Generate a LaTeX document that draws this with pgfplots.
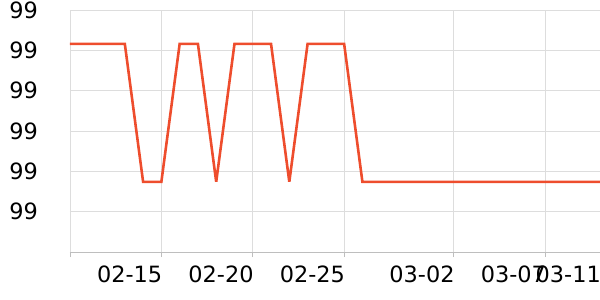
\documentclass[border=0pt]{standalone}
\usepackage{fontspec}
\setmainfont{DejaVu Sans}
\usepackage{pgfplots}
\pgfplotsset{compat=1.18}
\definecolor{linec}{RGB}{238,77,45}
\definecolor{gridc}{RGB}{221,221,221}
\definecolor{axisc}{RGB}{190,190,190}
\begin{document}
\begin{tikzpicture}
\useasboundingbox (-70bp,-48bp) rectangle (530bp,252bp);
\begin{axis}[
  at={(0,0)}, anchor=south west,
  scale only axis, width=530bp, height=242bp,
  xmin=0, xmax=29, ymin=0, ymax=6,
  axis x line*=bottom, axis y line*=left,
  x axis line style={draw=axisc, line width=0.8pt},
  y axis line style={draw=gridc, line width=0.8pt},
  xtick={0,5,10,15,21,26},
  xticklabels={,02-15,02-20,02-25,03-02,03-07},
  extra x ticks={29},
  extra x tick labels={03-11},
  extra x tick style={grid=none, xtick style={draw=none}},
  ytick={0,1,2,3,4,5,6},
  yticklabels={,99,99,99,99,99,99},
  grid=major,
  major grid style={draw=gridc, line width=0.8pt},
  tick align=outside,
  major tick length=5bp,
  xtick style={draw=axisc, line width=0.8pt},
  ytick style={draw=none},
  /pgf/number format/assume math mode=true,
  tick label style={font=\fontsize{22.5}{26}\selectfont, text=black},
  xticklabel style={anchor=north east, inner sep=0pt, yshift=-9bp, xshift=1bp},
  yticklabel style={anchor=east, inner sep=0pt, xshift=-27bp},
]
\addplot[color=linec, line width=2.6pt, line join=miter, miter limit=3] coordinates {
(0,5.16) (1,5.16) (2,5.16) (3,5.16) (4,1.74) (5,1.74) (6,5.16) (7,5.16)
(8,1.74) (9,5.16) (10,5.16) (11,5.16) (12,1.74) (13,5.16) (14,5.16) (15,5.16)
(16,1.74) (17,1.74) (18,1.74) (19,1.74) (20,1.74) (21,1.74) (22,1.74) (23,1.74)
(24,1.74) (25,1.74) (26,1.74) (27,1.74) (28,1.74) (29,1.74)
};
\end{axis}
\end{tikzpicture}
\end{document}
